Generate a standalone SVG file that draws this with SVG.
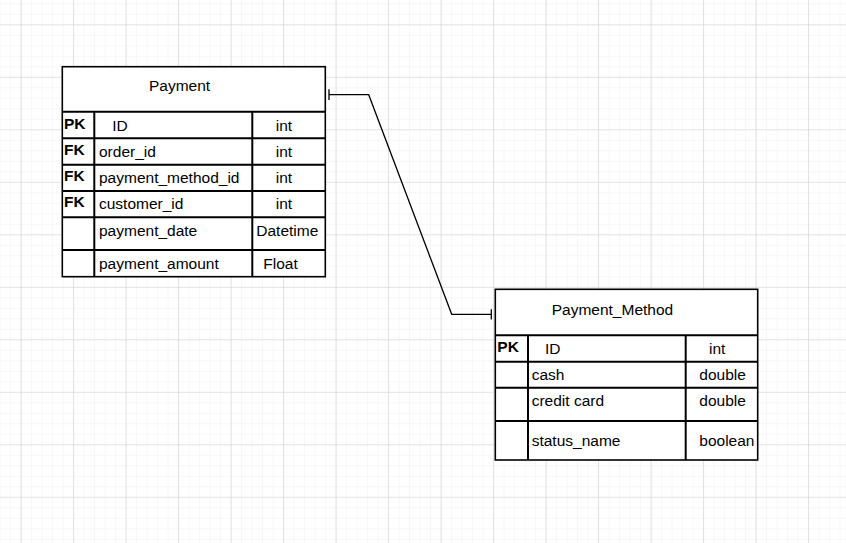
<svg xmlns="http://www.w3.org/2000/svg" width="846" height="543" viewBox="0 0 846 543">
<defs>
<style>
text{font-family:"Liberation Sans",Arial,sans-serif;font-size:15.5px;fill:#000}
.b{font-weight:bold}
.outer{fill:#fff;stroke:#000;stroke-width:1.6}
.in{stroke:#000;stroke-width:2;fill:none}
.conn{stroke:#000;stroke-width:1.3;fill:none}
</style>
<pattern id="minor" x="20.6" y="24.3" width="10.5" height="10.5" patternUnits="userSpaceOnUse">
<path d="M0 0H10.5M0 0V10.5" stroke="#efefef" stroke-width="1" fill="none"/>
</pattern>
<pattern id="major" x="20.6" y="24.3" width="52.5" height="52.5" patternUnits="userSpaceOnUse">
<path d="M0 0H52.5M0 0V52.5" stroke="#d2d2d2" stroke-width="1.2" fill="none"/>
</pattern>
</defs>
<rect width="846" height="543" fill="#fff"/>
<rect width="846" height="543" fill="url(#minor)"/>
<rect width="846" height="543" fill="url(#major)"/>

<g id="connectors">
<path class="conn" d="M329 94.7H368.7L451.7 314.3H491.3"/>
<path class="conn" d="M329 89.3V100M491.3 309.3V319.5"/>
</g>

<g id="payment">
<rect class="outer" x="62.3" y="66.7" width="263" height="210"/>
<path class="in" d="M62.3 111.7H325.3M62.3 138.3H325.3M62.3 164.7H325.3M62.3 191H325.3M62.3 217.3H325.3M62.3 250H325.3M94.3 111.7V276.7M252.3 111.7V276.7"/>
<text x="149" y="90.5">Payment</text>
<text class="b" x="64" y="128.5">PK</text>
<text class="b" x="64" y="154.5">FK</text>
<text class="b" x="64" y="180.5">FK</text>
<text class="b" x="64" y="206.5">FK</text>
<text x="112.3" y="130.5">ID</text>
<text x="99" y="157">order_id</text>
<text x="99" y="183">payment_method_id</text>
<text x="99" y="209">customer_id</text>
<text x="99" y="235.5">payment_date</text>
<text x="99" y="268.5">payment_amount</text>
<text x="275.7" y="130.5">int</text>
<text x="275.7" y="157">int</text>
<text x="275.7" y="183">int</text>
<text x="275.7" y="209">int</text>
<text x="256.3" y="235.5">Datetime</text>
<text x="263.3" y="268.5">Float</text>
</g>

<g id="payment_method">
<rect class="outer" x="495.3" y="289.3" width="262.4" height="170.7"/>
<path class="in" d="M495.3 335.3H757.7M495.3 361.7H757.7M495.3 387.7H757.7M495.3 421H757.7M528 335.3V460M685.7 335.3V460"/>
<text x="551.7" y="314.5">Payment_Method</text>
<text class="b" x="497.3" y="351.5">PK</text>
<text x="545" y="354">ID</text>
<text x="709" y="354">int</text>
<text x="531.7" y="380">cash</text>
<text x="699.3" y="380">double</text>
<text x="531.7" y="406">credit card</text>
<text x="699.3" y="406">double</text>
<text x="531.7" y="446">status_name</text>
<text x="699.3" y="446">boolean</text>
</g>
</svg>
